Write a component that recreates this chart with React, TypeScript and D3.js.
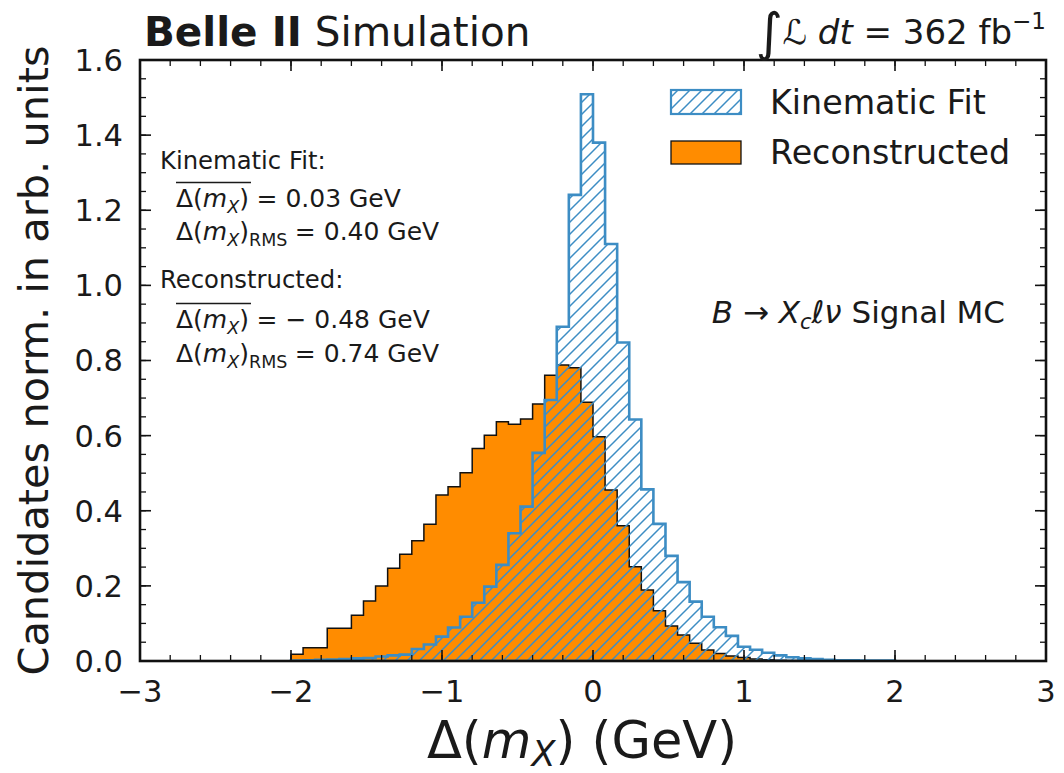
import React, { useLayoutEffect, useRef, useState } from "react";
import * as d3 from "d3";

// Histogram binning: 50 bins of 0.08 GeV between -2 and 2 GeV
const BIN_LOW = -2;
const BIN_HIGH = 2;
const N_BINS = 50;

// Normalised bin contents, Kinematic Fit
const kinematicFit = [
  0.001, 0.002, 0.003, 0.004, 0.005, 0.007, 0.008, 0.012, 0.015, 0.017,
  0.032, 0.044, 0.065, 0.089, 0.118, 0.155, 0.198, 0.256, 0.34, 0.411,
  0.554, 0.695, 0.89, 1.241, 1.509, 1.38, 1.11, 0.848, 0.643, 0.457,
  0.365, 0.28, 0.21, 0.158, 0.118, 0.09, 0.067, 0.038, 0.03, 0.022,
  0.015, 0.01, 0.007, 0.005, 0.003, 0.002, 0.002, 0.001, 0.001, 0.001,
];

// Normalised bin contents, Reconstructed
const reconstructed = [
  0.018, 0.035, 0.035, 0.087, 0.087, 0.122, 0.16, 0.2, 0.247, 0.284,
  0.32, 0.364, 0.442, 0.464, 0.501, 0.566, 0.601, 0.637, 0.63, 0.644,
  0.684, 0.761, 0.788, 0.781, 0.689, 0.597, 0.455, 0.36, 0.251, 0.189,
  0.134, 0.093, 0.069, 0.047, 0.029, 0.02, 0.013, 0.009, 0.005, 0.003,
  0.002, 0.001, 0.001, 0.0005, 0.0, 0.0, 0.0, 0.0, 0.0, 0.0,
];

const xTicks = [-3, -2, -1, 0, 1, 2, 3];
const yTicks = [0, 0.2, 0.4, 0.6, 0.8, 1.0, 1.2, 1.4, 1.6];
const xMinorStep = 0.2;
const yMinorStep = 0.05;

const W = 1064;
const H = 773;
const plot = { left: 140, right: 1046, top: 60, bottom: 661 };

const ORANGE = "#ff8c00";
const BLUE = "#3d8dc4";
const INK = "#1a1a1a";
const FONT = "DejaVu Sans, Liberation Sans, sans-serif";

const edges = d3.range(N_BINS + 1).map((i) => BIN_LOW + (i * (BIN_HIGH - BIN_LOW)) / N_BINS);

function stepPoints(vals: number[]): [number, number][] {
  const pts: [number, number][] = [[edges[0], 0]];
  vals.forEach((v, i) => {
    pts.push([edges[i], v]);
    pts.push([edges[i + 1], v]);
  });
  pts.push([edges[edges.length - 1], 0]);
  return pts;
}

// Δ(m_X) with optional overline or RMS subscript, followed by the value text
function DeltaLine(props: { x: number; y: number; size: number; bar?: boolean; rms?: boolean; rest: string }) {
  const { x, y, size, bar, rms, rest } = props;
  const ref = useRef<SVGTextElement>(null);
  const [w, setW] = useState(0);
  useLayoutEffect(() => {
    if (ref.current) setW(ref.current.getBBox().width);
  }, []);
  const sub = size * 0.7;
  return (
    <g fontFamily={FONT} fill={INK}>
      <text ref={ref} x={x} y={y} fontSize={size}>
        <tspan>Δ(</tspan>
        <tspan fontStyle="italic">m</tspan>
        <tspan fontStyle="italic" fontSize={sub} dy={size * 0.22}>X</tspan>
        <tspan dy={-size * 0.22}>)</tspan>
        {rms && (
          <tspan fontSize={sub} dy={size * 0.24}>RMS</tspan>
        )}
      </text>
      {bar && w > 0 && (
        <line x1={x} x2={x + w + 2} y1={y - size * 0.98} y2={y - size * 0.98} stroke={INK} strokeWidth={1.3} />
      )}
      {w > 0 && (
        <text x={x + w + size * 0.3} y={y} fontSize={size}>
          {rest}
        </text>
      )}
    </g>
  );
}

export default function App() {
  const x = d3.scaleLinear().domain([-3, 3]).range([plot.left, plot.right]);
  const y = d3.scaleLinear().domain([0, 1.6]).range([plot.bottom, plot.top]);
  const line = d3
    .line<[number, number]>()
    .x((d) => x(d[0]))
    .y((d) => y(d[1]));

  const recoPath = line(stepPoints(reconstructed)) as string;
  const kinPath = line(stepPoints(kinematicFit)) as string;

  const xMinor = d3.range(-3, 3 + 1e-9, xMinorStep);
  const yMinor = d3.range(0, 1.6 + 1e-9, yMinorStep);

  const majorLen = 11;
  const minorLen = 6;
  const tickColor = "#111";

  return (
    <svg
      width={W}
      height={H}
      viewBox={`0 0 ${W} ${H}`}
      style={{ position: "absolute", left: 0, top: 0, background: "#fff" }}
    >
      <defs>
        <pattern id="hatch" patternUnits="userSpaceOnUse" width={12} height={12}>
          <path d="M-3,3 L3,-3 M0,12 L12,0 M9,15 L15,9" stroke={BLUE} strokeWidth={1.5} />
        </pattern>
        <clipPath id="plotClip">
          <rect x={plot.left} y={plot.top} width={plot.right - plot.left} height={plot.bottom - plot.top} />
        </clipPath>
      </defs>

      <rect x={0} y={0} width={W} height={H} fill="#fff" />

      {/* histograms */}
      <g clipPath="url(#plotClip)">
        <path d={recoPath + "Z"} fill={ORANGE} stroke="#111" strokeWidth={1.5} strokeLinejoin="miter" />
        <path d={kinPath + "Z"} fill="url(#hatch)" stroke={BLUE} strokeWidth={2.6} strokeLinejoin="miter" />
      </g>

      {/* minor ticks */}
      <g stroke={tickColor} strokeWidth={1.3}>
        {xMinor.map((v, i) => (
          <g key={"xm" + i}>
            <line x1={x(v)} x2={x(v)} y1={plot.bottom} y2={plot.bottom - minorLen} />
            <line x1={x(v)} x2={x(v)} y1={plot.top} y2={plot.top + minorLen} />
          </g>
        ))}
        {yMinor.map((v, i) => (
          <g key={"ym" + i}>
            <line x1={plot.left} x2={plot.left + minorLen} y1={y(v)} y2={y(v)} />
            <line x1={plot.right} x2={plot.right - minorLen} y1={y(v)} y2={y(v)} />
          </g>
        ))}
      </g>
      {/* major ticks */}
      <g stroke={tickColor} strokeWidth={1.6}>
        {xTicks.map((v) => (
          <g key={"xM" + v}>
            <line x1={x(v)} x2={x(v)} y1={plot.bottom} y2={plot.bottom - majorLen} />
            <line x1={x(v)} x2={x(v)} y1={plot.top} y2={plot.top + majorLen} />
          </g>
        ))}
        {yTicks.map((v) => (
          <g key={"yM" + v}>
            <line x1={plot.left} x2={plot.left + majorLen} y1={y(v)} y2={y(v)} />
            <line x1={plot.right} x2={plot.right - majorLen} y1={y(v)} y2={y(v)} />
          </g>
        ))}
      </g>

      {/* frame */}
      <rect
        x={plot.left}
        y={plot.top}
        width={plot.right - plot.left}
        height={plot.bottom - plot.top}
        fill="none"
        stroke="#111"
        strokeWidth={2.6}
      />

      {/* tick labels */}
      <g fontFamily={FONT} fontSize={30.5} fill={INK}>
        {xTicks.map((v) => (
          <text key={"xl" + v} x={x(v)} y={plot.bottom + 41} textAnchor="middle">
            {v < 0 ? "\u2212" + Math.abs(v) : String(v)}
          </text>
        ))}
        {yTicks.map((v) => (
          <text key={"yl" + v} x={plot.left - 17} y={y(v)} dy="0.36em" textAnchor="end">
            {v.toFixed(1)}
          </text>
        ))}
      </g>

      {/* axis labels */}
      <text
        x={0}
        y={0}
        transform={`translate(48,${(plot.top + plot.bottom) / 2}) rotate(-90)`}
        textAnchor="middle"
        fontFamily={FONT}
        fontSize={41.5}
        fill={INK}
      >
        Candidates norm. in arb. units
      </text>
      <text x={582} y={758} textAnchor="middle" fontFamily={FONT} fontSize={51} fill={INK}>
        <tspan>Δ(</tspan>
        <tspan fontStyle="italic">m</tspan>
        <tspan fontStyle="italic" fontSize={35} dy={8}>X</tspan>
        <tspan dy={-8}>) (GeV)</tspan>
      </text>

      {/* header */}
      <text x={144} y={46} fontFamily={FONT} fontSize={40.5} fill={INK}>
        <tspan fontWeight="bold">Belle II</tspan>
        <tspan> Simulation</tspan>
      </text>
      <text x={plot.right} y={44} textAnchor="end" fontFamily={FONT} fontSize={34} fill={INK}>
        <tspan fontSize={52} dy={6}>∫</tspan>
        <tspan fontStyle="italic" dy={-6}>ℒ</tspan>
        <tspan fontStyle="italic"> dt</tspan>
        <tspan> = 362 fb</tspan>
        <tspan fontSize={23} dy={-15}>−1</tspan>
      </text>

      {/* legend */}
      <g>
        <rect x={671} y={90} width={70} height={24} fill="url(#hatch)" stroke={BLUE} strokeWidth={2.2} />
        <rect x={671} y={141} width={70} height={23} fill={ORANGE} stroke="#111" strokeWidth={1.3} />
        <text x={770} y={114} fontFamily={FONT} fontSize={33.3} fill={INK}>
          Kinematic Fit
        </text>
        <text x={770} y={164} fontFamily={FONT} fontSize={33.3} fill={INK}>
          Reconstructed
        </text>
      </g>

      {/* summary statistics */}
      <text x={160} y={169} fontFamily={FONT} fontSize={24.3} fill={INK}>
        Kinematic Fit:
      </text>
      <DeltaLine x={176} y={207} size={25} bar rest="= 0.03 GeV" />
      <DeltaLine x={176} y={240} size={25} rms rest="= 0.40 GeV" />
      <text x={160} y={288} fontFamily={FONT} fontSize={24.3} fill={INK}>
        Reconstructed:
      </text>
      <DeltaLine x={176} y={328} size={25} bar rest={"= \u2212 0.48 GeV"} />
      <DeltaLine x={176} y={362} size={25} rms rest="= 0.74 GeV" />

      {/* process label */}
      <text x={1005} y={323} textAnchor="end" fontFamily={FONT} fontSize={31} fill={INK}>
        <tspan fontStyle="italic">B</tspan>
        <tspan> → </tspan>
        <tspan fontStyle="italic">X</tspan>
        <tspan fontStyle="italic" fontSize={21} dy={6}>c</tspan>
        <tspan fontStyle="italic" dy={-6}>ℓν</tspan>
        <tspan> Signal MC</tspan>
      </text>
    </svg>
  );
}
